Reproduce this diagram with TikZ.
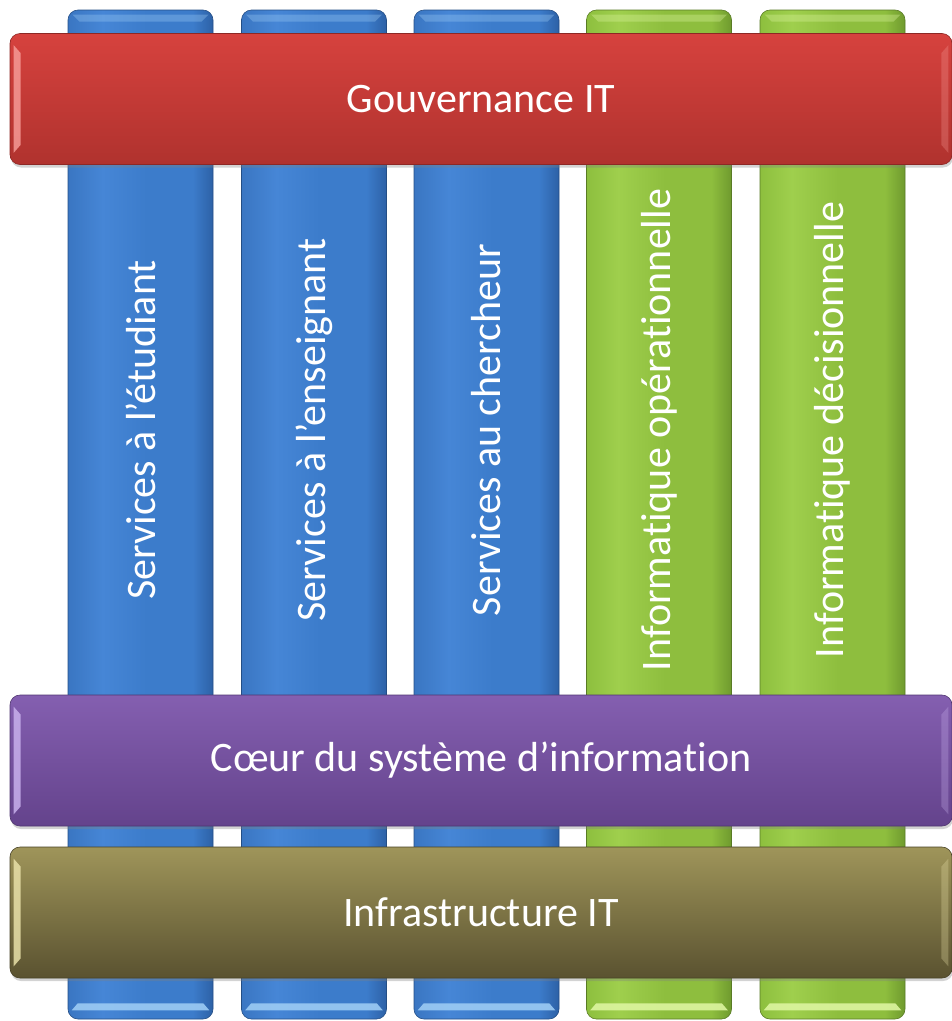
\documentclass[tikz,border=0pt]{standalone}
\usepackage{fontspec}
\setmainfont{Carlito}[Ligatures=NoCommon]
\usetikzlibrary{shadows,calc}

\definecolor{blueE}{HTML}{3A76C2}
\definecolor{blueL}{HTML}{4686D6}
\definecolor{blueM}{HTML}{3C7CCB}
\definecolor{blueD}{HTML}{2D61A6}
\definecolor{blueHi}{HTML}{9CCBF4}
\definecolor{greenE}{HTML}{8DBF3E}
\definecolor{greenL}{HTML}{9FCF4D}
\definecolor{greenM}{HTML}{8EBE3E}
\definecolor{greenD}{HTML}{6F9A2E}
\definecolor{greenHi}{HTML}{DDF5A0}
\definecolor{redT}{HTML}{D6423E}
\definecolor{redB}{HTML}{B0322E}
\definecolor{redHi}{HTML}{F59A96}
\definecolor{purT}{HTML}{845FB0}
\definecolor{purB}{HTML}{64438C}
\definecolor{purHi}{HTML}{C8B0EC}
\definecolor{oliT}{HTML}{9F955A}
\definecolor{oliB}{HTML}{5A5230}
\definecolor{oliHi}{HTML}{E8E0A8}

% rounded cylinder look across the width of a pillar
\pgfdeclarehorizontalshading{bluecyl}{100bp}{color(0bp)=(blueE); color(25bp)=(blueE);
  color(37bp)=(blueL); color(52bp)=(blueM); color(68bp)=(blueM); color(75bp)=(blueD); color(100bp)=(blueD)}
\pgfdeclarehorizontalshading{greencyl}{100bp}{color(0bp)=(greenE); color(25bp)=(greenE);
  color(36bp)=(greenL); color(52bp)=(greenM); color(68bp)=(greenM); color(75bp)=(greenD); color(100bp)=(greenD)}

\tikzset{
  pillar/.style={rectangle, rounded corners=10pt, minimum width=145pt,
    minimum height=1009pt, inner sep=0pt, line width=0.6pt},
  bluepillar/.style={pillar, draw=blueD!80!black, shading=bluecyl},
  greenpillar/.style={pillar, draw=greenD!80!black, shading=greencyl},
  bar/.style={rectangle, rounded corners=10pt, minimum width=942pt,
    minimum height=131pt, inner sep=0pt, line width=0.6pt,
    font=\fontsize{42}{50}\selectfont, text=white,
    drop shadow={opacity=0.35, shadow xshift=1pt, shadow yshift=-3pt}},
  lbl/.style={text=white, font=\fontsize{42}{50}\selectfont, inner sep=0pt, rotate=90},
}

\newcommand{\pillartrim}[2]{%
  % lower glossy strip and upper bevel of a pillar
  \fill[#2, opacity=0.9] ($(#1.south west)+(10,-16)$) -- ($(#1.south east)+(-10,-16)$)
     -- ($(#1.south east)+(-4,-9)$) -- ($(#1.south west)+(4,-9)$) -- cycle;
  \fill[#2, opacity=0.35] ($(#1.north west)+(5,5)$) -- ($(#1.north east)+(-5,5)$)
     -- ($(#1.north east)+(-12,12)$) -- ($(#1.north west)+(12,12)$) -- cycle;
}
\newcommand{\bartrim}[2]{%
  % glossy bevel along the left and right ends of a bar
  \fill[#2, opacity=0.85] ($(#1.north west)+(4,12)$) -- ($(#1.north west)+(11,20)$)
     -- ($(#1.south west)+(11,-20)$) -- ($(#1.south west)+(4,-12)$) -- cycle;
  \fill[#2, opacity=0.3] ($(#1.north east)+(-4,12)$) -- ($(#1.north east)+(-11,20)$)
     -- ($(#1.south east)+(-11,-20)$) -- ($(#1.south east)+(-4,-12)$) -- cycle;
}

\begin{document}
\begin{tikzpicture}[x=1pt,y=-1pt]
\useasboundingbox (0,0) rectangle (952,1021);

% vertical pillars
\node[bluepillar]  (p1) at (140.5,514.5) {};
\node[bluepillar]  (p2) at (314,514.5) {};
\node[bluepillar]  (p3) at (486.5,514.5) {};
\node[greenpillar] (p4) at (659,514.5) {};
\node[greenpillar] (p5) at (832.5,514.5) {};
\pillartrim{p1}{blueHi}
\pillartrim{p2}{blueHi}
\pillartrim{p3}{blueHi}
\pillartrim{p4}{greenHi}
\pillartrim{p5}{greenHi}

% horizontal layers
\node[bar, draw=redB!80!black, top color=redT, bottom color=redB] (gov) at (481,99) {Gouvernance IT};
\node[bar, draw=purB!80!black, top color=purT, bottom color=purB] (core) at (481,760.5) {Cœur du système d’information};
\node[bar, draw=oliB!80!black, top color=oliT, bottom color=oliB] (infra) at (481,912.5) {Infrastructure IT};
\bartrim{gov}{redHi}
\bartrim{core}{purHi}
\bartrim{infra}{oliHi}

% pillar captions
\node[lbl] (t1) at (140.5,430) {Services à l’étudiant};
\node[lbl] (t2) at (314,430) {Services à l’enseignant};
\node[lbl] (t3) at (486.5,430) {Services au chercheur};
\node[lbl] (t4) at (659,430) {Informatique opérationnelle};
\node[lbl] (t5) at (832.5,430) {Informatique décisionnelle};
\end{tikzpicture}
\end{document}
